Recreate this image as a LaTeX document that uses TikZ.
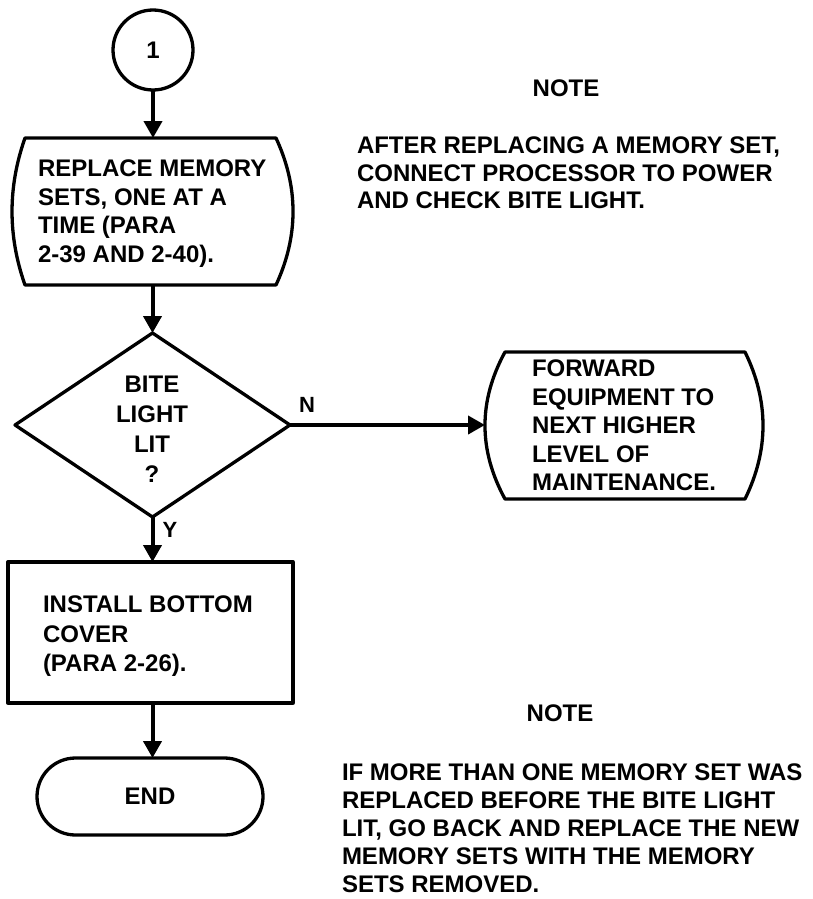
\documentclass[tikz,border=0pt]{standalone}
\usepackage{fontspec}
\setmainfont{Liberation Sans}
\usetikzlibrary{arrows.meta,shapes.geometric,calc}
\begin{document}
\begin{tikzpicture}[x=1pt,y=-1pt,
  txt/.style={font=\fontsize{24}{28.5}\selectfont\bfseries, align=left, inner sep=0pt, outer sep=0pt},
  lbl/.style={font=\fontsize{22}{26}\selectfont\bfseries, inner sep=0pt, outer sep=0pt},
  shp/.style={line width=3.3pt, line join=round},
  conn/.style={line width=4pt, -{Triangle[width=18pt,length=17pt]}},
  frame/.style={inner sep=0pt, outer sep=0pt},
  ]
\useasboundingbox (0,0) rectangle (813,899);

% start connector
\node[circle, draw, shp, frame, minimum size=80pt, font=\fontsize{24}{28.5}\selectfont\bfseries] (start) at (153,50) {1};

% box 1 (curved sides)
\node[frame, minimum width=281pt, minimum height=147pt] (b1) at (152.5,211.5) {};
\draw[shp] ($(b1.north west)+(13,0)$) -- ($(b1.north east)+(-17,0)$)
  .. controls ($(b1.north east)+(5.7,49)$) and ($(b1.south east)+(5.7,-49)$) .. ($(b1.south east)+(-17,0)$)
  -- ($(b1.south west)+(13,0)$)
  .. controls ($(b1.south west)+(-4.3,-49)$) and ($(b1.north west)+(-4.3,49)$) .. ($(b1.north west)+(13,0)$) -- cycle;
\node[txt, anchor=north west] (t1) at (38,159.8) {REPLACE MEMORY\\SETS, ONE AT A\\TIME (PARA\\2-39 AND 2-40).};

% decision
\node[diamond, draw, shp, frame, minimum width=275pt, minimum height=184pt] (dec) at (152.5,425) {};
\node[txt, align=center, anchor=north, font=\fontsize{24}{30}\selectfont\bfseries] (tdec) at (152,375.8) {BITE\\LIGHT\\LIT\\?};

% box 2 (curved sides)
\node[frame, minimum width=278pt, minimum height=147pt] (b2) at (624,425.5) {};
\draw[shp] ($(b2.north west)+(20,0)$) -- ($(b2.north east)+(-18,0)$)
  .. controls ($(b2.north east)+(6,49)$) and ($(b2.south east)+(6,-49)$) .. ($(b2.south east)+(-18,0)$)
  -- ($(b2.south west)+(20,0)$)
  .. controls ($(b2.south west)+(-6.7,-49)$) and ($(b2.north west)+(-6.7,49)$) .. ($(b2.north west)+(20,0)$) -- cycle;
\node[txt, anchor=north west] (t2) at (532,359.8) {FORWARD\\EQUIPMENT TO\\NEXT HIGHER\\LEVEL OF\\MAINTENANCE.};

% box 3
\node[draw, shp, frame, minimum width=285pt, minimum height=141pt] (b3) at (150.5,632.5) {};
\node[txt, anchor=north west, font=\fontsize{24}{29.5}\selectfont\bfseries] (t3) at (43,595.8) {INSTALL BOTTOM\\COVER\\(PARA 2-26).};

% terminal
\node[draw, shp, frame, rounded corners=38.5pt, minimum width=226pt, minimum height=77pt, font=\fontsize{24}{28.5}\selectfont\bfseries] (endn) at (150,796.5) {END};

% labels
\node[lbl] (lN) at (307,405) {N};
\node[lbl] (lY) at (170,530) {Y};

% notes
\node[txt, anchor=north] (note1h) at (566,79.8) {NOTE};
\node[txt, anchor=north west, font=\fontsize{24}{27.5}\selectfont\bfseries] (note1) at (357,136.8) {AFTER REPLACING A MEMORY SET,\\CONNECT PROCESSOR TO POWER\\AND CHECK BITE LIGHT.};
\node[txt, anchor=north] (note2h) at (560,704.8) {NOTE};
\node[txt, anchor=north west, font=\fontsize{24}{28}\selectfont\bfseries] (note2) at (342,763.8) {IF MORE THAN ONE MEMORY SET WAS\\REPLACED BEFORE THE BITE LIGHT\\LIT, GO BACK AND REPLACE THE NEW\\MEMORY SETS WITH THE MEMORY\\SETS REMOVED.};

% connectors
\draw[conn] (start.south) -- (start.south |- b1.north);
\draw[conn] (b1.south) -- (b1.south |- dec.north);
\draw[conn] (dec.east) -- (dec.east -| b2.west);
\draw[conn] (dec.south) -- (dec.south |- b3.north);
\draw[conn] (dec.south |- b3.south) -- (dec.south |- endn.north);
\end{tikzpicture}
\end{document}
